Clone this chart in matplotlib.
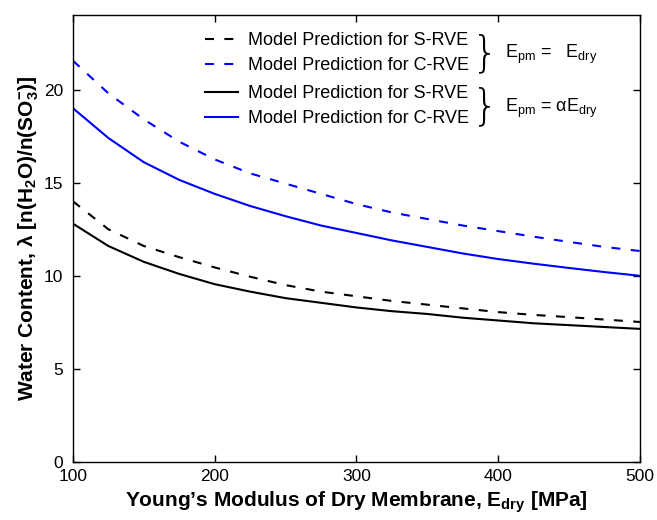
import numpy as np
import matplotlib
matplotlib.use("Agg")
import matplotlib.pyplot as plt

plt.rcParams['font.family'] = ['Liberation Sans', 'DejaVu Sans']
plt.rcParams['mathtext.fontset'] = 'custom'
plt.rcParams['mathtext.rm'] = 'Liberation Sans'
plt.rcParams['mathtext.it'] = 'Liberation Sans:italic'
plt.rcParams['mathtext.bf'] = 'Liberation Sans:bold'

# Data
e_dry = [100, 125, 150, 175, 200, 225, 250, 275, 300, 325, 350, 375, 400, 425, 450, 475, 500]
s_rve_dry = [14.0, 12.5, 11.6, 11.0, 10.45, 9.95, 9.5, 9.15, 8.9, 8.65, 8.45, 8.25, 8.05, 7.9, 7.78, 7.65, 7.52]
c_rve_dry = [21.55, 19.8, 18.4, 17.2, 16.25, 15.5, 14.95, 14.4, 13.85, 13.4, 13.05, 12.7, 12.4, 12.1, 11.82, 11.55, 11.33]
s_rve_alpha = [12.8, 11.6, 10.75, 10.1, 9.55, 9.15, 8.8, 8.55, 8.3, 8.1, 7.95, 7.75, 7.6, 7.45, 7.35, 7.25, 7.15]
c_rve_alpha = [19.0, 17.4, 16.1, 15.15, 14.4, 13.75, 13.2, 12.7, 12.3, 11.9, 11.55, 11.2, 10.9, 10.65, 10.42, 10.2, 10.0]

label_s = 'Model Prediction for S-RVE'
label_c = 'Model Prediction for C-RVE'
dash = (4.3, 5.0)

fig = plt.figure(figsize=(6.57, 5.2), dpi=100)
ax = fig.add_axes([0.111, 0.1115, 0.863, 0.8595])

l1, = ax.plot(e_dry, s_rve_dry, color='k', lw=1.5, dashes=dash)
l2, = ax.plot(e_dry, c_rve_dry, color='b', lw=1.5, dashes=dash)
l3, = ax.plot(e_dry, s_rve_alpha, color='k', lw=1.5)
l4, = ax.plot(e_dry, c_rve_alpha, color='b', lw=1.5)

ax.set_xlim(100, 500)
ax.set_ylim(0, 24)
ax.set_xticks([100, 200, 300, 400, 500])
ax.set_yticks([0, 5, 10, 15, 20])
ax.tick_params(direction='in', top=True, right=True, labelsize=12.5, length=5, width=1)
ax.tick_params(axis='y', pad=7)
ax.tick_params(axis='x', pad=5)
for sp in ax.spines.values():
    sp.set_linewidth(1)

ax.set_xlabel('Young\u2019s Modulus of Dry Membrane, E$_\\mathbf{dry}$ [MPa]',
              fontsize=15, fontweight='bold', labelpad=4)
ax.set_ylabel('Water Content, \u03bb [n(H$_\\mathbf{2}$O)/n(SO$_\\mathbf{3}^\\mathbf{-}$)]',
              fontsize=15, fontweight='bold', labelpad=2)

leg_kw = dict(frameon=False, fontsize=13, handlelength=1.8, handletextpad=0.6,
              labelspacing=0.45, loc='upper left', borderpad=0, borderaxespad=0)
leg1 = ax.legend([l1, l2], [label_s, label_c], bbox_to_anchor=(0.233, 0.962), **leg_kw)
ax.add_artist(leg1)
leg2 = ax.legend([l3, l4], [label_s, label_c], bbox_to_anchor=(0.233, 0.843), **leg_kw)

for yb in (0.913, 0.794):
    ax.text(0.727, yb, '}', transform=ax.transAxes, fontsize=30, fontweight='light',
            ha='center', va='center', family='DejaVu Sans')
ax.text(0.762, 0.911, 'E$_\\mathregular{pm}$ =   E$_\\mathregular{dry}$', transform=ax.transAxes,
        fontsize=13, ha='left', va='center')
ax.text(0.762, 0.792, 'E$_\\mathregular{pm}$ = \u03b1E$_\\mathregular{dry}$', transform=ax.transAxes,
        fontsize=13, ha='left', va='center')

fig.savefig('out.png', dpi=100)
